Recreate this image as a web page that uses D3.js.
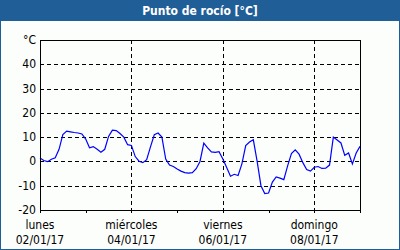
<!DOCTYPE html>
<html>
<head>
<meta charset="utf-8">
<script src="https://cdn.jsdelivr.net/npm/d3@7"></script>
<style>
  body { margin: 0; background: #fcfefc; }
  svg { display: block; }
</style>
</head>
<body>
<div id="chart"></div>
<script>
// punto de rocío, una lectura cada 2 horas desde 02/01/17 00:00
const startTime = "2017-01-02T00:00";
const stepHours = 2;
const dewPoint = [
  1.4, 0.4, -0.1, 0.9, 1.5, 5.0, 11.1, 12.5, 12.2, 11.9, 11.7, 11.3, 9.2,
  5.6, 6.1, 5.0, 3.8, 5.0, 10.3, 12.9, 12.7, 11.5, 10.0, 6.9, 6.6,
  2.0, 0.1, -0.5, 0.7, 6.0, 11.0, 11.7, 10.0, 1.0, -1.5, -2.1, -3.1,
  -4.0, -4.6, -4.8, -4.6, -3.0, 0.0, 7.5, 5.6, 3.9, 3.7, 4.0, 1.0,
  -2.5, -6.1, -5.3, -5.8, -1.0, 6.5, 8.0, 8.9, 0.0, -10.0, -13.2, -13.0,
  -8.5, -6.4, -6.9, -7.5, -1.8, 3.2, 4.8, 3.0, -0.5, -3.3, -4.0, -2.4,
  -2.1, -2.9, -2.8, -1.5, 10.0, 8.8, 7.6, 2.5, 3.5, -1.0, 3.5, 6.2
];

const yTicks = [-20, -10, 0, 10, 20, 30, 40];
const yTopLabel = "°C";
const dayNames = ["lunes", "miércoles", "viernes", "domingo"];
const dayDates = ["02/01/17", "04/01/17", "06/01/17", "08/01/17"];
const title = "Punto de rocío [°C]";

const width = 400, height = 250;
const margin = { top: 40, right: 40, bottom: 40, left: 40 };
const font = "'DejaVu Sans Condensed', 'DejaVu Sans', sans-serif";

const parseTime = d3.timeParse("%Y-%m-%dT%H:%M");
const parseDay = d3.timeParse("%d/%m/%y");
const t0 = parseTime(startTime);
const data = dewPoint.map((v, i) => ({ time: d3.timeHour.offset(t0, i * stepHours), value: v }));

const svg = d3.select("#chart").append("svg")
  .attr("width", width)
  .attr("height", height);

// marco y barra de título
svg.append("rect")
  .attr("x", 0.5).attr("y", 0.5)
  .attr("width", width - 1).attr("height", height - 1)
  .attr("fill", "#fcfefc")
  .attr("stroke", "#1f5e96")
  .attr("stroke-width", 1);
svg.append("rect")
  .attr("x", 0).attr("y", 0)
  .attr("width", width).attr("height", 21)
  .attr("fill", "#1f5e96");
svg.append("text")
  .attr("x", width / 2)
  .attr("y", 15)
  .attr("text-anchor", "middle")
  .attr("font-family", font)
  .attr("font-size", "12px")
  .attr("font-weight", "bold")
  .attr("fill", "white")
  .text(title);

const x = d3.scaleTime()
  .domain([t0, d3.timeDay.offset(t0, 7)])
  .range([margin.left, width - margin.right]);

const y = d3.scaleLinear()
  .domain([-20, 50])
  .range([height - margin.bottom, margin.top]);

// rejilla horizontal
svg.append("g")
  .selectAll("line")
  .data(yTicks.filter(d => d > -20))
  .join("line")
  .attr("x1", margin.left)
  .attr("x2", width - margin.right)
  .attr("y1", d => Math.round(y(d)) + 0.5)
  .attr("y2", d => Math.round(y(d)) + 0.5)
  .attr("stroke", "black")
  .attr("stroke-dasharray", "4,3")
  .attr("shape-rendering", "crispEdges");

// rejilla vertical (cada dos días)
const gridDays = dayDates.slice(1).map(parseDay);
svg.append("g")
  .selectAll("line")
  .data(gridDays)
  .join("line")
  .attr("x1", d => Math.round(x(d)) + 0.5)
  .attr("x2", d => Math.round(x(d)) + 0.5)
  .attr("y1", margin.top)
  .attr("y2", height - margin.bottom + 3)
  .attr("stroke", "black")
  .attr("stroke-dasharray", "4,3")
  .attr("shape-rendering", "crispEdges");

// marcas diarias bajo el eje
svg.append("g")
  .attr("transform", `translate(0, ${height - margin.bottom})`)
  .call(d3.axisBottom(x).ticks(d3.timeDay.every(1)).tickSize(3).tickFormat(""))
  .call(g => g.select(".domain").remove())
  .call(g => g.selectAll("line").attr("shape-rendering", "crispEdges"));

// etiquetas eje x
const xLabels = svg.append("g")
  .attr("font-family", font)
  .attr("font-size", "12px")
  .attr("fill", "#000")
  .attr("text-anchor", "middle");
dayDates.forEach((d, i) => {
  const cx = x(parseDay(d));
  xLabels.append("text").attr("x", cx).attr("y", 229).text(dayNames[i]);
  xLabels.append("text").attr("x", cx).attr("y", 244).text(d);
});

// etiquetas eje y
const yLabels = svg.append("g")
  .attr("font-family", font)
  .attr("font-size", "12px")
  .attr("fill", "#000")
  .attr("text-anchor", "end");
yTicks.forEach(t => {
  yLabels.append("text")
    .attr("x", 36)
    .attr("y", y(t) + 4)
    .text(t);
});
yLabels.append("text")
  .attr("x", 36)
  .attr("y", y(50) + 4)
  .text(yTopLabel);

// serie
const line = d3.line()
  .x(d => x(d.time))
  .y(d => y(d.value));

svg.append("path")
  .datum(data)
  .attr("fill", "none")
  .attr("stroke", "#0000ff")
  .attr("stroke-width", 1.2)
  .attr("d", line);

// borde del área de trazado
svg.append("rect")
  .attr("x", margin.left + 0.5)
  .attr("y", margin.top + 0.5)
  .attr("width", width - margin.left - margin.right)
  .attr("height", height - margin.top - margin.bottom)
  .attr("fill", "none")
  .attr("stroke", "black")
  .attr("shape-rendering", "crispEdges");
</script>
</body>
</html>
